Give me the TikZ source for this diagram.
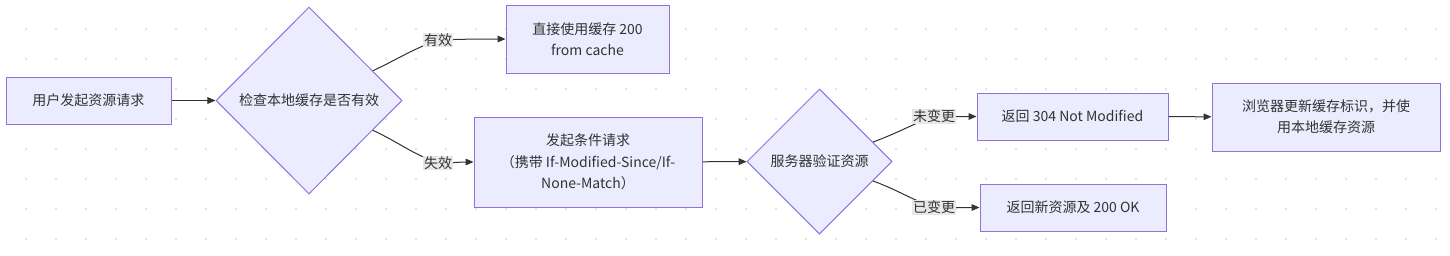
\documentclass[tikz,border=0pt]{standalone}
\usepackage{fontspec}
\setmainfont{Noto Sans CJK SC}
\usetikzlibrary{shapes.geometric,arrows.meta}
\definecolor{nodefill}{HTML}{ECECFF}
\definecolor{nodeborder}{HTML}{9370DB}
\definecolor{ink}{HTML}{333333}
\definecolor{lblbg}{HTML}{E8E8E8}
\definecolor{griddot}{HTML}{DCDCDC}
\tikzset{
  box/.style={rectangle, draw=nodeborder, fill=nodefill, line width=0.75pt, text=ink, align=center, inner sep=0pt},
  dia/.style={diamond, draw=nodeborder, fill=nodefill, line width=0.75pt, text=ink, align=center, inner sep=0pt},
  lbl/.style={fill=lblbg, text=ink, inner sep=0.6pt},
  arr/.style={draw=ink, line width=0.75pt, -{Triangle[length=6pt,width=5pt]}},
}
\begin{document}
\begin{tikzpicture}[x=0.75pt, y=-0.75pt, font=\fontsize{10.5pt}{16pt}\selectfont]
\useasboundingbox (0,0) rectangle (1450,255);
\fill[white] (0,0) rectangle (1450,255);
\foreach \i in {0,...,47} {
  \foreach \j in {0,...,8} {
    \fill[griddot] (26+30*\i, -1+30*\j) circle[radius=1.1];
  }
}
% nodes
\node[box, minimum width=123.75pt, minimum height=35.25pt] (A) at (88.5,100.5) {用户发起资源请求};
\node[dia, minimum width=139.5pt, minimum height=140.25pt] (B) at (309,100.5) {检查本地缓存是否有效};
\node[box, minimum width=122.25pt, minimum height=51pt] (C) at (587.5,39) {直接使用缓存 200\\from cache};
\node[box, minimum width=171pt, minimum height=67.5pt] (D) at (588,162) {发起条件请求\\（携带 If-Modified-Since/If-\\None-Match）};
\node[dia, minimum width=108.75pt, minimum height=108.75pt] (E) at (819.5,161.5) {服务器验证资源};
\node[box, minimum width=143.25pt, minimum height=35.25pt] (F) at (1072.5,116.5) {返回 304 Not Modified};
\node[box, minimum width=171pt, minimum height=51pt] (G) at (1326,117) {浏览器更新缓存标识，并使\\用本地缓存资源};
\node[box, minimum width=139.5pt, minimum height=35.25pt] (H) at (1073,207.5) {返回新资源及 200 OK};
% label anchors
\coordinate (p1) at (438,40);
\coordinate (p2) at (438,163);
\coordinate (p3) at (934,116.5);
\coordinate (p4) at (934,207.5);
% edges
\draw[arr] (A) -- (B);
\draw[arr] (B) to[out=25,in=200] (p1) to[out=2,in=180] (C);
\draw[arr] (B) to[out=-25,in=160] (p2) to[out=0,in=180] (D);
\draw[arr] (D) -- (E);
\draw[arr] (E) to[out=20,in=200] (p3) to[out=0,in=180] (F);
\draw[arr] (E) to[out=-20,in=160] (p4) to[out=0,in=180] (H);
\draw[arr] (F) -- (G);
% edge labels
\node[lbl] (l1) at (p1) {有效};
\node[lbl] (l2) at (p2) {失效};
\node[lbl] (l3) at (p3) {未变更};
\node[lbl] (l4) at (p4) {已变更};
\end{tikzpicture}
\end{document}
